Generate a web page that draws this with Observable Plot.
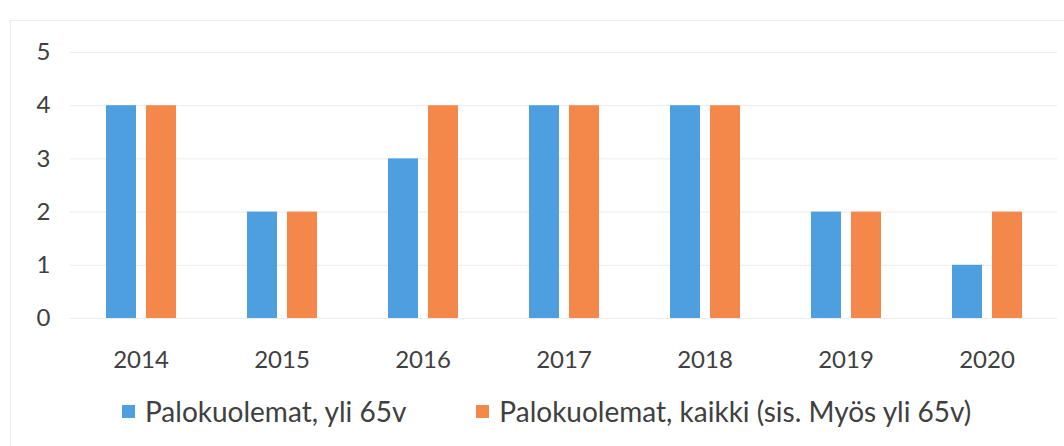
<!DOCTYPE html>
<html>
<head>
<meta charset="utf-8">
<script src="https://cdn.jsdelivr.net/npm/d3@7"></script>
<script src="https://cdn.jsdelivr.net/npm/@observablehq/plot@0.6"></script>
<style>
  body { margin: 0; background: #fff; }
  #wrap { position: relative; width: 1064px; height: 446px; font-family: Lato, "Open Sans", sans-serif; color: #404040; }
  #frame { position: absolute; left: 10px; top: 20px; right: -2px; bottom: -2px; border-left: 1px solid #ececec; border-top: 1px solid #ececec; pointer-events: none; }
  #legend { position: absolute; left: 0; top: 378px; width: 1064px; height: 66px; display: flex; align-items: center; padding-left: 122px; box-sizing: border-box; font-size: 28px; }
  .item { display: flex; align-items: center; margin-right: 70px; }
  .sw { width: 13px; height: 13px; margin-right: 10px; }
</style>
</head>
<body>
<div id="wrap">
  <div id="chart"></div>
  <div id="legend"></div>
  <div id="frame"></div>
</div>
<script>
const years = ["2014", "2015", "2016", "2017", "2018", "2019", "2020"];
const seriesNames = ["Palokuolemat, yli 65v", "Palokuolemat, kaikki (sis. Myös yli 65v)"];
const over65 = [4, 2, 3, 4, 4, 2, 1];
const all = [4, 2, 4, 4, 4, 2, 2];
const colors = ["#4d9fdf", "#f4884a"];
const yTicks = [0, 1, 2, 3, 4, 5];

const data = [];
years.forEach((y, i) => {
  data.push({year: y, series: seriesNames[0], value: over65[i]});
  data.push({year: y, series: seriesNames[1], value: all[i]});
});

const chart = Plot.plot({
  width: 1064,
  height: 380,
  marginLeft: 70,
  marginRight: 7,
  marginTop: 52,
  marginBottom: 62,
  style: {fontFamily: "Lato, 'Open Sans', sans-serif", fontSize: "24px", color: "#404040", background: "transparent"},
  fx: {domain: years, padding: 0, tickSize: 0, tickPadding: 32, label: null, axis: "bottom"},
  x: {domain: seriesNames, paddingInner: 0.25, paddingOuter: 0.8875, axis: null},
  y: {domain: [0, 5], ticks: yTicks, tickFormat: d3.format("d"), tickSize: 0, tickPadding: 20, label: null},
  color: {domain: seriesNames, range: colors},
  facet: {data, x: "year"},
  marks: [
    Plot.ruleY(yTicks, {stroke: "#ececec", strokeWidth: 1}),
    Plot.barY(data, {x: "series", y: "value", fill: "series"})
  ]
});
document.getElementById("chart").appendChild(chart);

const legend = document.getElementById("legend");
seriesNames.forEach((s, i) => {
  const it = document.createElement("div");
  it.className = "item";
  const sw = document.createElement("div");
  sw.className = "sw";
  sw.style.background = colors[i];
  const t = document.createElement("span");
  t.textContent = s;
  it.appendChild(sw);
  it.appendChild(t);
  legend.appendChild(it);
});
</script>
</body>
</html>
